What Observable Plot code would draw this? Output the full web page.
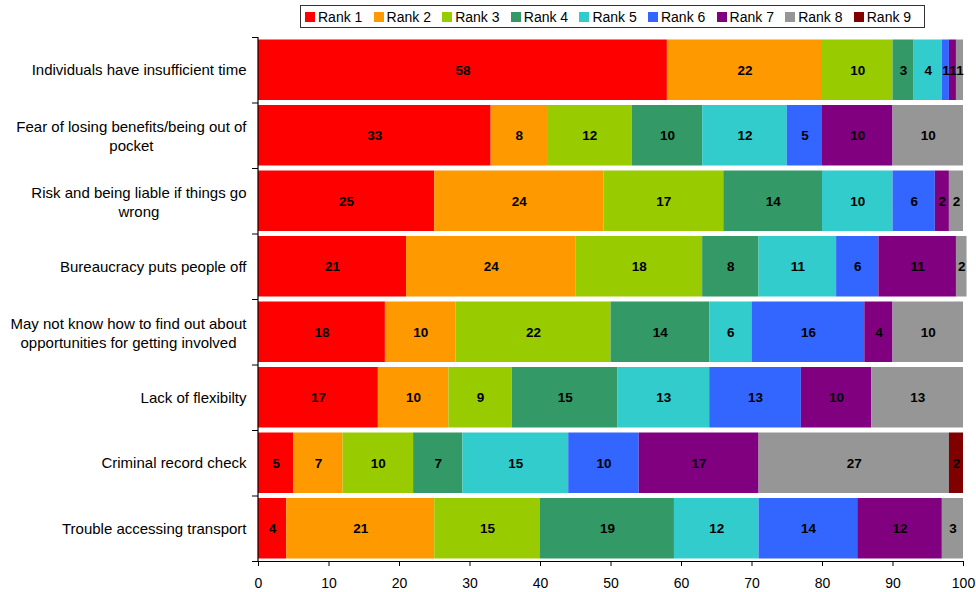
<!DOCTYPE html>
<html>
<head>
<meta charset="utf-8">
<script src="https://cdn.jsdelivr.net/npm/d3@7"></script>
<script src="https://cdn.jsdelivr.net/npm/@observablehq/plot@0.6"></script>
<style>
  html, body { margin: 0; padding: 0; background: #fff; }
  #wrap { position: relative; width: 976px; height: 592px; font-family: "Liberation Sans", Arial, sans-serif; }
  #legend { position: absolute; left: 300px; top: 5px; width: 619px; height: 21px; border: 1px solid #333;
            display: flex; align-items: center; padding-left: 4px; box-sizing: content-box; background: #fff; }
  .item { display: flex; align-items: center; width: 68.6px; font-size: 14px; color: #000; white-space: nowrap; }
  .sw { width: 10px; height: 10px; margin-right: 3px; flex: none; }
</style>
</head>
<body>
<div id="wrap"><div id="legend"></div><div id="chart"></div></div>
<script>
const categories = [
  "Individuals have insufficient time",
  "Fear of losing benefits/being out of\npocket",
  "Risk and being liable if things go\nwrong",
  "Bureaucracy puts people off",
  "May not know how to find out about\nopportunities for getting involved",
  "Lack of flexibilty",
  "Criminal record check",
  "Trouble accessing transport"
];
const ranks = ["Rank 1","Rank 2","Rank 3","Rank 4","Rank 5","Rank 6","Rank 7","Rank 8","Rank 9"];
const colors = ["#FF0000","#FF9900","#99CC00","#339966","#33CCCC","#3366FF","#800080","#969696","#800000"];
const rank1 = [58, 33, 25, 21, 18, 17, 5, 4];
const rank2 = [22, 8, 24, 24, 10, 10, 7, 21];
const rank3 = [10, 12, 17, 18, 22, 9, 10, 15];
const rank4 = [3, 10, 14, 8, 14, 15, 7, 19];
const rank5 = [4, 12, 10, 11, 6, 13, 15, 12];
const rank6 = [1, 5, 6, 6, 16, 13, 10, 14];
const rank7 = [1, 10, 2, 11, 4, 10, 17, 12];
const rank8 = [1, 10, 2, 1.5, 10, 13, 27, 3];
const rank9 = [0, 0, 0, 0, 0, 0, 2, 0];
const xTicks = [0, 10, 20, 30, 40, 50, 60, 70, 80, 90, 100];

const series = [rank1, rank2, rank3, rank4, rank5, rank6, rank7, rank8, rank9];
const rows = [];
categories.forEach((c, i) => {
  let acc = 0;
  series.forEach((s, r) => {
    const v = s[i];
    if (v > 0) rows.push({cat: c, i, rank: ranks[r], value: v, x1: acc, x2: acc + v});
    acc += v;
  });
});

// legend
const lg = document.getElementById("legend");
ranks.forEach((r, k) => {
  const it = document.createElement("div"); it.className = "item";
  const sw = document.createElement("div"); sw.className = "sw"; sw.style.background = colors[k];
  const tx = document.createElement("span"); tx.textContent = r;
  it.appendChild(sw); it.appendChild(tx); lg.appendChild(it);
});

// label measurement for centered multi-line labels
const LF = 15;
const ctx = document.createElement("canvas").getContext("2d");
ctx.font = LF + "px 'Liberation Sans'";
const labelMarks = categories.map((c, i) => {
  const lines = c.split("\n");
  if (lines.length === 1) {
    return Plot.text([i], {y: d => d + 0.5, text: () => c, frameAnchor: "left", textAnchor: "end", dx: -12,
      fontSize: LF, fill: "#000", fontFamily: "Liberation Sans"});
  }
  const w = Math.max(...lines.map(l => ctx.measureText(l).width));
  return Plot.text([i], {y: d => d + 0.5, text: () => c, frameAnchor: "left", textAnchor: "middle", dx: -12 - w / 2,
    lineHeight: 1.27, fontSize: LF, fill: "#000", fontFamily: "Liberation Sans"});
});

const fmt = d3.format(".0f");
const chart = Plot.plot({
  width: 976,
  height: 592,
  marginLeft: 258,
  marginRight: 13,
  marginTop: 37,
  marginBottom: 31,
  style: {fontFamily: "Liberation Sans", fontSize: "14px", background: "#fff", color: "#000"},
  x: {domain: [0, 100], label: null},
  y: {domain: [0, categories.length], reverse: true, label: null},
  color: {domain: ranks, range: colors},
  marks: [
    Plot.rectX(rows, {x1: "x1", x2: "x2", y1: d => d.i, y2: d => d.i + 1, fill: "rank", insetTop: 2.5, insetBottom: 2.5}),
    Plot.text(rows, {x: d => (d.x1 + d.x2) / 2, y: d => d.i + 0.5, text: d => fmt(d.value),
      fontWeight: "bold", fontSize: 13.5, fill: "#000", fontFamily: "Liberation Sans"}),
    Plot.axisX({ticks: xTicks, tickSize: 5, tickPadding: 12, tickFormat: d3.format("d"), fontSize: 14, label: null}),
    Plot.axisY({ticks: d3.range(0, categories.length + 1), tickSize: 6, tickFormat: () => "", label: null}),
    Plot.ruleY([categories.length], {stroke: "#000", strokeWidth: 1.2}),
    Plot.ruleX([0], {y1: 0, y2: categories.length, stroke: "#000", strokeWidth: 1.2, dx: -0.5}),
    ...labelMarks
  ]
});
document.getElementById("chart").appendChild(chart);
</script>
</body>
</html>
